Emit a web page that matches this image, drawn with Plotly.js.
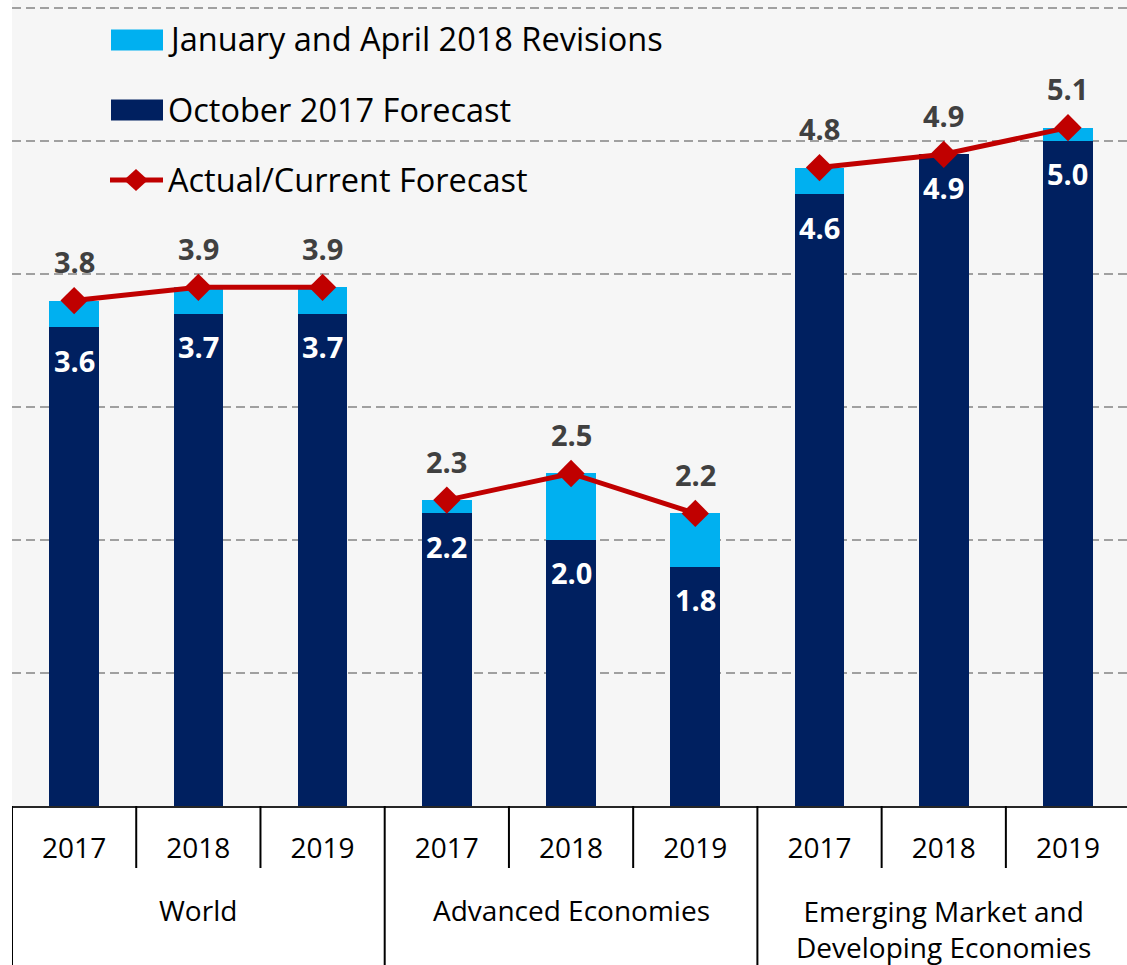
<!DOCTYPE html>
<html>
<head>
<meta charset="utf-8">
<script src="https://cdn.plot.ly/plotly-3.0.1.min.js"></script>
<style>
  html, body { margin: 0; padding: 0; background: #ffffff; }
  #chart { width: 1127px; height: 965px; }
</style>
</head>
<body>
<div id="chart"></div>
<script>
// ---- data ----
var years = ['2017', '2018', '2019', '2017', '2018', '2019', '2017', '2018', '2019'];
var groups = ['World', 'Advanced Economies', 'Emerging Market and<br>Developing Economies'];
var groupOf = [0, 0, 0, 1, 1, 1, 2, 2, 2];
var october2017 = [3.6, 3.7, 3.7, 2.2, 2.0, 1.8, 4.6, 4.9, 5.0];
var revisions = [0.2, 0.2, 0.2, 0.1, 0.5, 0.4, 0.2, 0.0, 0.1];
var actualCurrent = [3.8, 3.9, 3.9, 2.3, 2.5, 2.2, 4.8, 4.9, 5.1];
var legendNames = ['January and April 2018 Revisions', 'October 2017 Forecast', 'Actual/Current Forecast'];

// ---- styles ----
var NAVY = '#002060', LIGHT = '#00b0f0', RED = '#c00000';
var FONT = '"Open Sans", "Noto Sans", sans-serif';

var idx = years.map(function (_, i) { return i; });

var traces = [];
traces.push({
  type: 'bar', x: idx, y: october2017, name: legendNames[1],
  marker: { color: NAVY }, width: 0.4, showlegend: false, hoverinfo: 'skip'
});
traces.push({
  type: 'bar', x: idx, y: revisions, name: legendNames[0],
  marker: { color: LIGHT }, width: 0.4, showlegend: false, hoverinfo: 'skip'
});
// one line segment per group
groups.forEach(function (g, gi) {
  var xs = [], ys = [];
  idx.forEach(function (i) { if (groupOf[i] === gi) { xs.push(i); ys.push(actualCurrent[i]); } });
  traces.push({
    type: 'scatter', mode: 'lines+markers', x: xs, y: ys, name: legendNames[2],
    line: { color: RED, width: 5 },
    marker: { symbol: 'diamond', size: 21, color: RED },
    showlegend: false, hoverinfo: 'skip'
  });
});

var annotations = [];
// white labels inside navy bars, dark labels above the markers
idx.forEach(function (i) {
  annotations.push({
    x: i, y: october2017[i], xref: 'x', yref: 'y', text: october2017[i].toFixed(1),
    showarrow: false, yshift: -33, yanchor: 'middle',
    font: { family: FONT, size: 29, color: '#ffffff', weight: 700 }
  });
  annotations.push({
    x: i, y: actualCurrent[i], xref: 'x', yref: 'y', text: actualCurrent[i].toFixed(1),
    showarrow: false, yshift: 39, yanchor: 'middle',
    font: { family: FONT, size: 29, color: '#404040', weight: 700 }
  });
});

// group labels
var PLOT_H = 806;
function py(px) { return (PLOT_H - px) / PLOT_H; }
var groupCenters = [1, 4, 7];
var groupY = [910, 910, 929];
groups.forEach(function (g, gi) {
  annotations.push({
    x: groupCenters[gi], y: py(groupY[gi]), xref: 'x', yref: 'paper', text: g,
    showarrow: false, yanchor: 'middle', xanchor: 'center',
    font: { family: FONT, size: 28, color: '#000000' }
  });
});

// manual legend
var PLOT_W = 1115, LEFT = 12;
function pxx(px) { return (px - LEFT) / PLOT_W; }
var legendY = [40, 110, 180];
var legendColors = [LIGHT, NAVY];
var shapes = [];
[0, 1].forEach(function (k) {
  shapes.push({
    type: 'rect', xref: 'paper', yref: 'paper',
    x0: pxx(111), x1: pxx(163), y0: py(legendY[k] - 10.5), y1: py(legendY[k] + 10.5),
    fillcolor: legendColors[k], line: { width: 0 }
  });
});
shapes.push({
  type: 'line', xref: 'paper', yref: 'paper',
  x0: pxx(110), x1: pxx(163), y0: py(legendY[2]), y1: py(legendY[2]),
  line: { color: RED, width: 5 }
});
shapes.push({
  type: 'path', xref: 'paper', yref: 'paper',
  path: 'M ' + pxx(136) + ' ' + py(legendY[2] - 11) +
        ' L ' + pxx(148) + ' ' + py(legendY[2]) +
        ' L ' + pxx(136) + ' ' + py(legendY[2] + 11) +
        ' L ' + pxx(124) + ' ' + py(legendY[2]) + ' Z',
  fillcolor: RED, line: { width: 0 }
});
legendNames.forEach(function (n, k) {
  annotations.push({
    x: pxx(166), y: py(legendY[k] - 1), xref: 'paper', yref: 'paper', text: n,
    showarrow: false, xanchor: 'left', yanchor: 'middle',
    font: { family: FONT, size: 32.5, color: '#000000' }
  });
});

// category dividers below the axis
[0.5, 1.5, 3.5, 4.5, 6.5, 7.5].forEach(function (b) {
  shapes.push({ type: 'line', xref: 'x', yref: 'paper', x0: b, x1: b, y0: 0, y1: py(868),
    line: { color: '#000000', width: 2 } });
});
[-0.5, 2.5, 5.5].forEach(function (b) {
  shapes.push({ type: 'line', xref: 'x', yref: 'paper', x0: b, x1: b, y0: 0, y1: py(965),
    line: { color: '#000000', width: 2 } });
});

var layout = {
  width: 1127, height: 965,
  margin: { l: 12, r: 0, t: 0, b: 159 },
  paper_bgcolor: '#ffffff', plot_bgcolor: '#f6f6f6',
  barmode: 'stack',
  showlegend: false,
  font: { family: FONT, color: '#000000' },
  xaxis: {
    range: [-0.5, 8.475], tickvals: idx, ticktext: years,
    tickfont: { family: FONT, size: 28, color: '#000000' },
    showgrid: false, zeroline: false, ticks: '',
    showline: true, linecolor: '#262626', linewidth: 2,
    ticklabelstandoff: 16, fixedrange: true
  },
  yaxis: {
    range: [0, 6.06], dtick: 1, showticklabels: false,
    showgrid: true, gridcolor: '#a0a0a0', gridwidth: 1.5, griddash: '9px,5px',
    zeroline: false, showline: false, ticks: '', fixedrange: true
  },
  annotations: annotations,
  shapes: shapes
};

Plotly.newPlot('chart', traces, layout, { displayModeBar: false, staticPlot: true });
</script>
</body>
</html>
